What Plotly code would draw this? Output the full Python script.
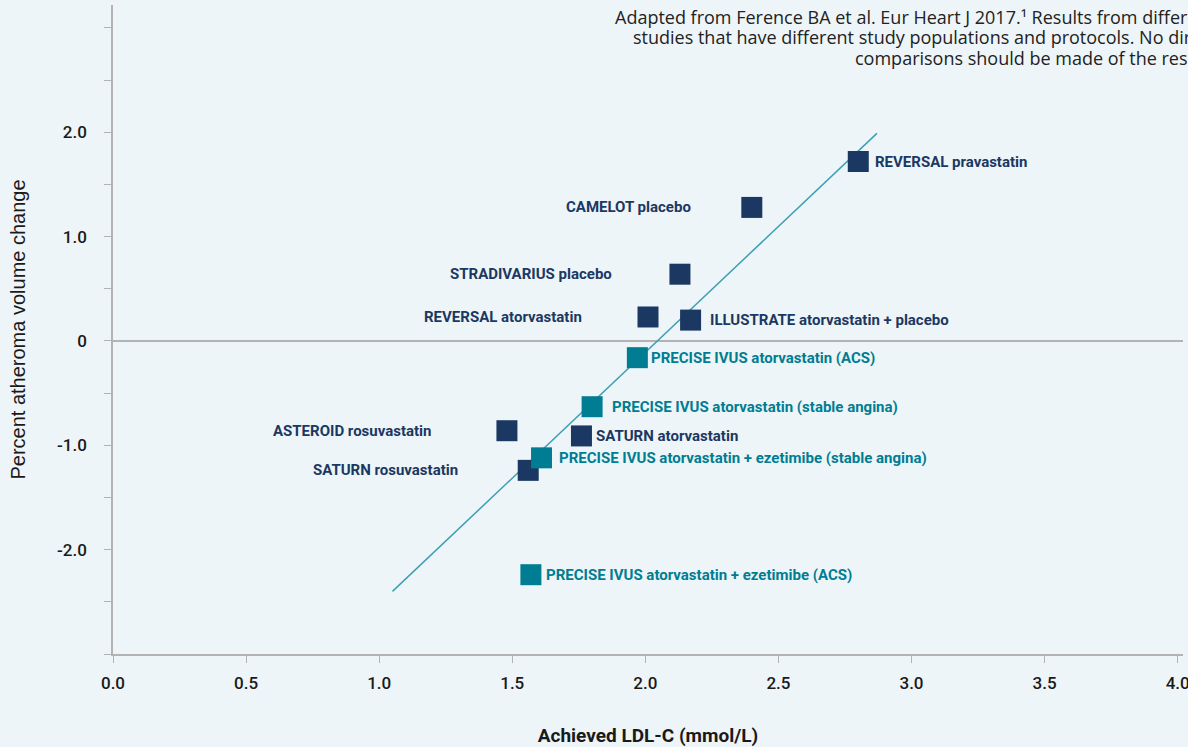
import plotly.graph_objects as go

# Trial results: achieved LDL-C (mmol/L) vs. change in percent atheroma volume
studies = [
    "REVERSAL pravastatin",
    "CAMELOT placebo",
    "STRADIVARIUS placebo",
    "REVERSAL atorvastatin",
    "ILLUSTRATE atorvastatin + placebo",
    "PRECISE IVUS atorvastatin (ACS)",
    "PRECISE IVUS atorvastatin (stable angina)",
    "ASTEROID rosuvastatin",
    "SATURN atorvastatin",
    "PRECISE IVUS atorvastatin + ezetimibe (stable angina)",
    "SATURN rosuvastatin",
    "PRECISE IVUS atorvastatin + ezetimibe (ACS)",
]
ldl_c = [2.80, 2.40, 2.13, 2.01, 2.17, 1.97, 1.80, 1.48, 1.76, 1.61, 1.56, 1.57]
pav_change = [1.72, 1.28, 0.64, 0.23, 0.20, -0.16, -0.63, -0.86, -0.91, -1.12, -1.24, -2.24]
is_precise = [False, False, False, False, False, True, True, False, False, True, False, True]

# Fitted regression line endpoints
fit_x = [1.05, 2.87]
fit_y = [-2.40, 1.99]

x_ticks = [0.0, 0.5, 1.0, 1.5, 2.0, 2.5, 3.0, 3.5, 4.0]
x_tick_text = ["0.0", "0.5", "1.0", "1.5", "2.0", "2.5", "3.0", "3.5", "4.0"]
y_ticks = [-3.0, -2.5, -2.0, -1.5, -1.0, -0.5, 0.0, 0.5, 1.0, 1.5, 2.0, 2.5, 3.0]
y_tick_text = ["", "", "-2.0", "", "-1.0", "", "0", "", "1.0", "", "2.0", "", ""]

source_note = [
    "Adapted from Ference BA et al. Eur Heart J 2017.¹ Results from different",
    "studies that have different study populations and protocols. No direct",
    "comparisons should be made of the results.",
]

# Label placement: horizontal pixel offset from the marker centre
# (positive = label to the right, negative = label to the left)
label_shift = [15, -59, -66, -64, 17, 12, 18, -74, 13, 15, -68, 13]

NAVY = "#1b3862"
TEAL = "#007d92"
LINE = "#3c9fb4"
BG = "#eef5f8"
AXIS = "#b3b3b3"
TEXT = "#1a1a1a"
LABEL_FONT = "Roboto, Arial, sans-serif"

fig = go.Figure()

fig.add_trace(go.Scatter(
    x=fit_x, y=fit_y, mode="lines",
    line=dict(color=LINE, width=1.5),
    hoverinfo="skip", showlegend=False,
))

for precise in (False, True):
    xs = [x for x, p in zip(ldl_c, is_precise) if p == precise]
    ys = [y for y, p in zip(pav_change, is_precise) if p == precise]
    fig.add_trace(go.Scatter(
        x=xs, y=ys, mode="markers",
        marker=dict(symbol="square", size=21, color=TEAL if precise else NAVY,
                    line=dict(width=0)),
        showlegend=False,
    ))

# Study labels beside each marker
for name, x, y, p, shift in zip(studies, ldl_c, pav_change, is_precise, label_shift):
    fig.add_annotation(
        x=x, y=y, text=name, showarrow=False,
        xanchor="left" if shift > 0 else "right",
        xshift=shift,
        font=dict(family=LABEL_FONT, size=15, weight=700, color=TEAL if p else NAVY),
    )

# Source note, top right (right-aligned block that runs off the page edge)
for line_text, x_start, y_mid in zip(source_note, [0.4673, 0.4841, 0.6916],
                                     [0.9815, 0.9507, 0.9183]):
    fig.add_annotation(
        xref="paper", yref="paper", x=x_start, y=y_mid,
        xanchor="left", yanchor="middle", showarrow=False,
        text=line_text,
        font=dict(family="Open Sans, Noto Sans, sans-serif", size=18, color="#222222"),
    )

tick_font = dict(family="Roboto, Arial, sans-serif", size=17, weight=500, color=TEXT)

fig.update_layout(
    width=1188, height=747,
    margin=dict(l=113, r=5, t=5, b=93),
    paper_bgcolor=BG, plot_bgcolor=BG,
    xaxis=dict(
        range=[0, 4.02], tickvals=x_ticks, ticktext=x_tick_text,
        showgrid=False, zeroline=False, automargin=False,
        showline=True, linecolor=AXIS, linewidth=1.5,
        ticks="outside", ticklen=7, tickcolor=AXIS, tickwidth=1,
        ticklabelstandoff=6, ticklabeloverflow="allow",
        tickfont=tick_font,
        title=dict(text="Achieved LDL-C (mmol/L)", standoff=42,
                   font=dict(family=LABEL_FONT, size=19, weight=700, color=TEXT)),
    ),
    yaxis=dict(
        range=[-3.0, 3.22], tickvals=y_ticks, ticktext=y_tick_text,
        showgrid=False, automargin=False,
        zeroline=True, zerolinecolor=AXIS, zerolinewidth=1.5,
        showline=True, linecolor=AXIS, linewidth=1.5,
        ticks="outside", ticklen=7, tickcolor=AXIS, tickwidth=1,
        ticklabelstandoff=14,
        tickfont=tick_font,
        title=dict(text="Percent atheroma volume change", standoff=26,
                   font=dict(family="Liberation Sans, Arial, sans-serif", size=20, color=TEXT)),
    ),
)

fig.write_html("out.html")
